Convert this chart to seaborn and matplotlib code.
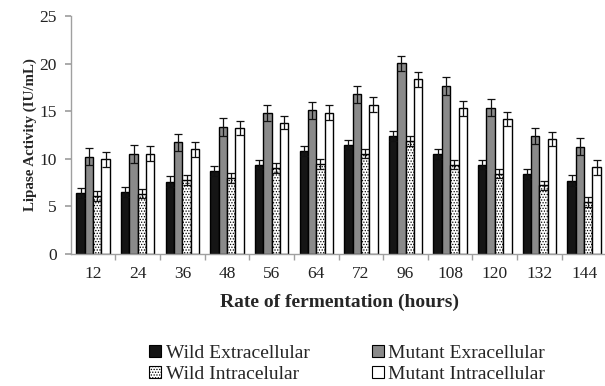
import numpy as np
import pandas as pd
import matplotlib
matplotlib.use("Agg")
import matplotlib.pyplot as plt
import seaborn as sns
from matplotlib.patches import Patch
from matplotlib.ticker import FixedLocator

hours = ["12", "24", "36", "48", "56", "64", "72", "96", "108", "120", "132", "144"]
series = ["Wild Extracellular", "Mutant Exracellular", "Wild Intracelular", "Mutant Intracellular"]
wild_extra = [6.4, 6.5, 7.6, 8.7, 9.4, 10.85, 11.5, 12.4, 10.5, 9.4, 8.4, 7.7]
mutant_extra = [10.2, 10.5, 11.75, 13.3, 14.85, 15.1, 16.8, 20.05, 17.65, 15.35, 12.4, 11.25]
wild_intra = [6.1, 6.35, 7.75, 8.0, 9.05, 9.45, 10.55, 11.85, 9.4, 8.45, 7.2, 5.45]
mutant_intra = [9.95, 10.55, 11.0, 13.25, 13.8, 14.85, 15.7, 18.35, 15.3, 14.15, 12.1, 9.1]
err_wild_extra = [0.5, 0.5, 0.55, 0.55, 0.5, 0.53, 0.5, 0.5, 0.55, 0.5, 0.53, 0.55]
err_mutant_extra = [0.9, 0.9, 0.9, 0.95, 0.85, 0.9, 0.9, 0.8, 0.9, 0.9, 0.87, 0.9]
err_wild_intra = [0.5, 0.5, 0.55, 0.55, 0.5, 0.5, 0.5, 0.5, 0.46, 0.48, 0.5, 0.53]
err_mutant_intra = [0.8, 0.8, 0.8, 0.77, 0.7, 0.8, 0.75, 0.8, 0.8, 0.73, 0.75, 0.77]

values = [wild_extra, mutant_extra, wild_intra, mutant_intra]
errors = [err_wild_extra, err_mutant_extra, err_wild_intra, err_mutant_intra]

df = pd.DataFrame({
    "hours": np.tile(hours, len(series)),
    "series": np.repeat(series, len(hours)),
    "value": np.concatenate(values),
})

sns.set_theme(style="white")
plt.rcParams["font.family"] = ["Liberation Serif", "DejaVu Serif"]
plt.rcParams["hatch.linewidth"] = 0.6

fig = plt.figure(figsize=(6.05, 3.86), dpi=100)
ax = fig.add_axes([0.117, 0.342, 0.889, 0.6165])

palette = ["#151515", "#8a8a8a", "#ffffff", "#ffffff"]
sns.barplot(data=df, x="hours", y="value", hue="series", order=hours, hue_order=series,
            palette=palette, errorbar=None, width=0.75, saturation=1, legend=False, ax=ax)

styles = [
    dict(fc="#151515", hatch=None),
    dict(fc="#8a8a8a", hatch=None),
    dict(fc="#ffffff", hatch="......"),
    dict(fc="#ffffff", hatch=None),
]
for cont, st, errs in zip(ax.containers, styles, errors):
    xs, ys = [], []
    for bar in cont:
        bar.set_facecolor(st["fc"])
        bar.set_edgecolor("black")
        bar.set_linewidth(1.0)
        if st["hatch"]:
            bar.set_hatch(st["hatch"])
        xs.append(bar.get_x() + bar.get_width() / 2)
        ys.append(bar.get_height())
    ax.errorbar(xs, ys, yerr=errs, fmt="none", ecolor="#111111", elinewidth=0.9,
                capsize=2.6, capthick=0.9, zorder=5)

ax.set_ylim(0, 25)
ax.set_yticks([0, 5, 10, 15, 20, 25])
ax.set_xlim(-0.5, len(hours) - 0.5 + 0.05)
for s in ["top", "right"]:
    ax.spines[s].set_visible(False)
for s in ["left", "bottom"]:
    ax.spines[s].set_color("#a0a0a0")
    ax.spines[s].set_linewidth(1.0)

ax.tick_params(axis="y", which="major", direction="out", length=4, color="#a0a0a0",
               labelsize=12.5, labelcolor="#222222", left=True, pad=6)
ax.tick_params(axis="x", which="major", length=0, labelsize=12.5, labelcolor="#222222", pad=9)
ax.xaxis.set_minor_locator(FixedLocator(np.arange(0.5, len(hours) - 0.5, 1)))
ax.tick_params(axis="x", which="minor", direction="out", length=4, color="#a0a0a0", bottom=True)

ax.set_xlabel("Rate of fermentation (hours)", fontsize=14, fontweight="bold", labelpad=8)
ax.set_ylabel("Lipase Activity (IU/mL)", fontsize=10.8, fontweight="bold", labelpad=2)

handles = [Patch(facecolor=st["fc"], edgecolor="black", hatch=st["hatch"], linewidth=0.8)
           for st in styles]
# column-first fill: order so rows read WE, ME / WI, MI
order = [0, 2, 1, 3]
fig.legend([handles[i] for i in order], [series[i] for i in order], loc="center",
           bbox_to_anchor=(0.574, 0.057), ncol=2,
           frameon=False, fontsize=14, handlelength=0.6, handleheight=0.6,
           handletextpad=0.25, columnspacing=3.2, labelspacing=0.2)

fig.savefig("out.png", dpi=100)
